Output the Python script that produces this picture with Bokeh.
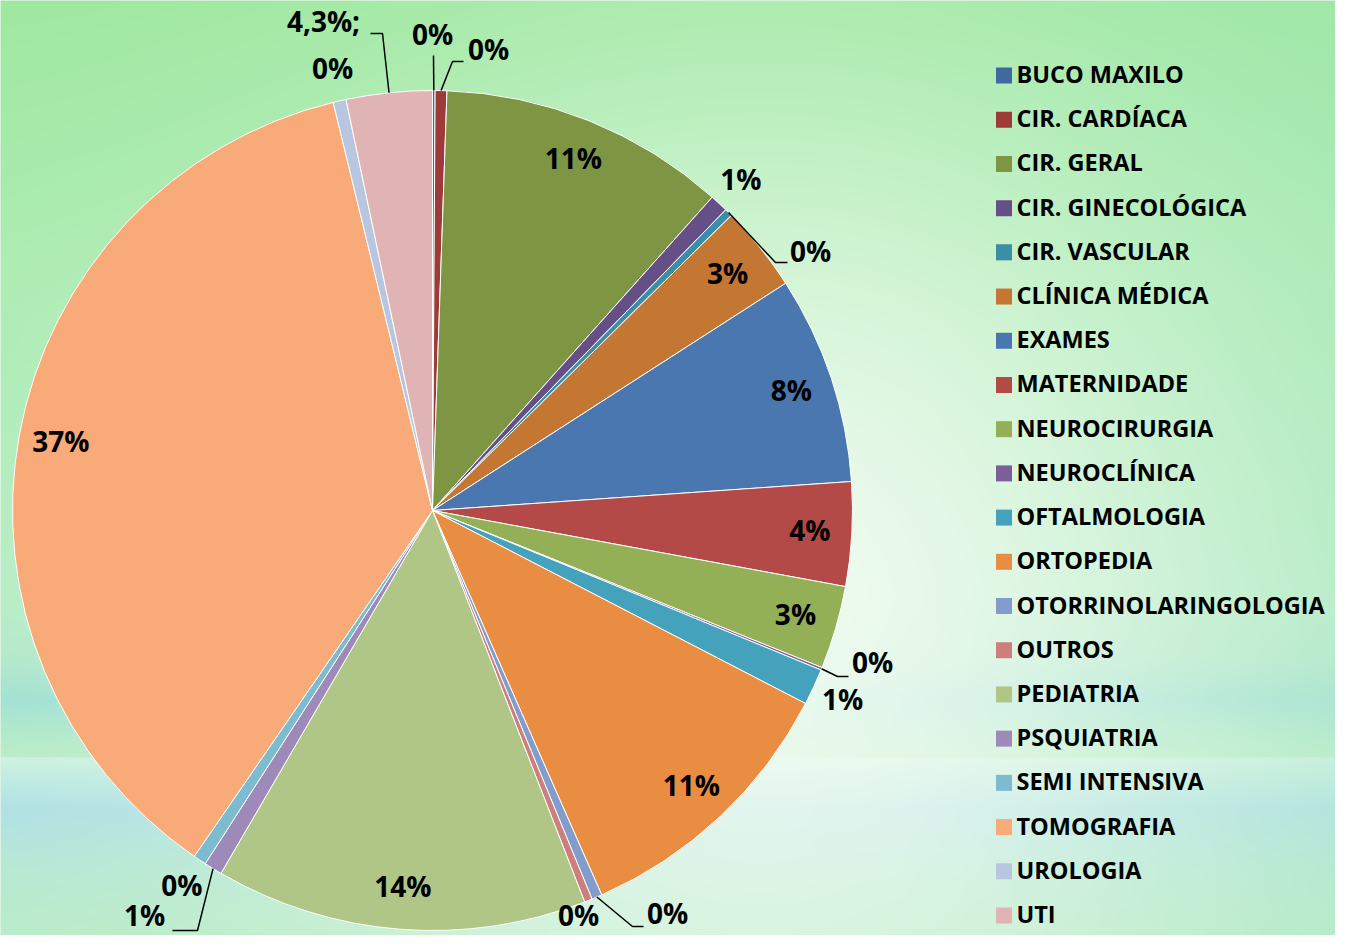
import numpy as np
from bokeh.plotting import figure
from bokeh.models import Range1d, ColumnDataSource
from bokeh.core.properties import value
from bokeh.embed import file_html
from bokeh.resources import INLINE

# ---------------- data ----------------
categories = ["BUCO MAXILO", "CIR. CARDÍACA", "CIR. GERAL", "CIR. GINECOLÓGICA",
              "CIR. VASCULAR", "CLÍNICA MÉDICA", "EXAMES", "MATERNIDADE",
              "NEUROCIRURGIA", "NEUROCLÍNICA", "OFTALMOLOGIA", "ORTOPEDIA",
              "OTORRINOLARINGOLOGIA", "OUTROS", "PEDIATRIA", "PSQUIATRIA",
              "SEMI INTENSIVA", "TOMOGRAFIA", "UROLOGIA", "UTI"]
values = [0.1, 0.45, 11.05, 0.7, 0.3, 3.3, 8.0, 4.0, 3.2, 0.1,
          1.4, 10.8, 0.4, 0.3, 14.3, 0.7, 0.5, 36.6, 0.5, 3.3]
labels = ["0%", "0%", "11%", "1%", "0%", "3%", "8%", "4%", "3%", "0%",
          "1%", "11%", "0%", "0%", "14%", "1%", "0%", "37%", "0%", "4,3%;"]
colors = ["#3E6AA0", "#9E3B39", "#7E9644", "#664E87", "#3A8EA6", "#C47633",
          "#4A77B0", "#B34A47", "#93B056", "#7A5F9B", "#45A2BD", "#E98D42",
          "#829DCB", "#CD7F7E", "#AFC686", "#9E8AB8", "#7CBBD0", "#F8AB79",
          "#B8C6E0", "#E0B4B4"]

# ---------------- layout (screen pixel coordinates, y downwards) ----------------
H_REF = 951
FIG_W, FIG_H = 1335, 935
CX, CY, R = 432, 510, 420
FONT = value("Open Sans")
LBL_SIZE = 28
LEG_SIZE = 23.5

inside = {"CIR. GERAL", "CLÍNICA MÉDICA", "EXAMES", "MATERNIDADE", "NEUROCIRURGIA",
          "ORTOPEDIA", "PEDIATRIA", "TOMOGRAFIA"}
# fixed label centres for outside labels near the bottom edge
fixed = {"OUTROS": (578, 916)}
# text centre, elbow, tail end for labels with leader lines
leaders = {
    "BUCO MAXILO": ((432, 35), (433, 55), (433, 55)),
    "CIR. CARDÍACA": ((488, 50), (452, 61), (463, 61)),
    "CIR. VASCULAR": ((810, 252), (775, 262), (787, 262)),
    "NEUROCLÍNICA": ((872, 663), (837, 676), (848, 676)),
    "OTORRINOLARINGOLOGIA": ((667, 914), (632, 926), (643, 926)),
    "PSQUIATRIA": ((144, 916), (197, 930), (172, 930)),
    "UTI": ((323, 22), (382, 33), (370, 33)),
}


def up(y):
    return H_REF - y


p = figure(width=FIG_W, height=FIG_H, x_range=Range1d(0, FIG_W),
           y_range=Range1d(H_REF - FIG_H, H_REF),
           output_backend="svg", toolbar_location=None, x_axis_type=None, y_axis_type=None,
           min_border=0)
p.grid.visible = False
p.outline_line_color = None
p.background_fill_color = "#C8F0D0"
p.border_fill_color = "white"

# ---------------- background gradient ----------------
nx, ny = 668, 468
xs = np.linspace(0, FIG_W, nx)
ys = np.linspace(0, FIG_H, ny)
X, Y = np.meshgrid(xs, ys)
top_y = [0, 300, 600, 660, 700, 740, 757]
top_c = np.array([[158, 232, 160], [172, 236, 178], [182, 236, 196], [176, 232, 200],
                  [158, 224, 210], [176, 234, 200], [184, 236, 198]], float)
bot_y = [758, 775, 810, 870, 951]
bot_c = np.array([[204, 242, 226], [192, 236, 226], [174, 224, 228], [180, 232, 210],
                  [186, 236, 196]], float)
base = np.zeros(X.shape + (3,))
for k in range(3):
    t = np.interp(Y, top_y, top_c[:, k])
    b = np.interp(Y, bot_y, bot_c[:, k])
    base[..., k] = np.where(Y < 758, t, b)
tint = np.clip((X - 900) / 450, 0, 1)[..., None]
base = base * (1 - 0.25 * tint) + np.array([150, 226, 184]) * 0.25 * tint
d2 = (X - 760) ** 2 + (Y - 600) ** 2
w = (0.92 * np.exp(-d2 / 480 ** 2))[..., None]
rgb = base * (1 - w) + np.array([242, 252, 242]) * w
img = np.empty((ny, nx, 4), dtype=np.uint8)
img[..., :3] = np.clip(rgb, 0, 255).astype(np.uint8)
img[..., 3] = 255
img = img[::-1].copy()
p.image_rgba(image=[img.view(np.uint32).reshape(ny, nx)], x=0, y=H_REF - FIG_H,
             dw=FIG_W, dh=FIG_H)

# ---------------- pie ----------------
vals = np.array(values, float)
frac = vals / vals.sum()
t1 = np.cumsum(frac) * 2 * np.pi
t0 = t1 - frac * 2 * np.pi
src = ColumnDataSource(dict(cat=categories, color=colors,
                            start=np.pi / 2 - t0, end=np.pi / 2 - t1))
p.wedge(x=CX, y=up(CY), radius=R, start_angle="start", end_angle="end",
        direction="clock", fill_color="color", line_color="white", line_width=1,
        source=src)

# ---------------- percentage labels ----------------
lx, ly, lt = [], [], []
lead_xs, lead_ys = [], []
for i, cat in enumerate(categories):
    mid = (t0[i] + t1[i]) / 2
    if cat in inside:
        r = 378
        x, y = CX + r * np.sin(mid), CY - r * np.cos(mid)
    elif cat in leaders:
        (x, y), (ex, ey), (tx, ty) = leaders[cat]
        sx, sy = CX + R * np.sin(mid), CY - R * np.cos(mid)
        lead_xs.append([sx, ex, tx])
        lead_ys.append([up(sy), up(ey), up(ty)])
    elif cat in fixed:
        x, y = fixed[cat]
    else:
        r = 452
        x, y = CX + r * np.sin(mid), CY - r * np.cos(mid)
    lx.append(x)
    ly.append(up(y - 1.5))
    lt.append(labels[i])

p.multi_line(xs=lead_xs, ys=lead_ys, line_color="black", line_width=1.5)
p.text(x=lx, y=ly, text=lt, text_font=FONT, text_font_style="bold",
       text_font_size=f"{LBL_SIZE}px", text_align="center", text_baseline="middle",
       text_color="black")

# ---------------- legend ----------------
row0, row_last = 75, 915
step = (row_last - row0) / (len(categories) - 1)
ry = [row0 + i * step for i in range(len(categories))]
p.rect(x=[1003.5] * len(categories), y=[up(v) for v in ry], width=16, height=16,
       fill_color=colors, line_color=None)
p.text(x=[1016] * len(categories), y=[up(v - 1.5) for v in ry],
       text=categories, text_font=FONT, text_font_style="bold",
       text_font_size=f"{LEG_SIZE}px", text_align="left", text_baseline="middle",
       text_color="black")

open("out.html", "w").write(file_html(p, INLINE))
